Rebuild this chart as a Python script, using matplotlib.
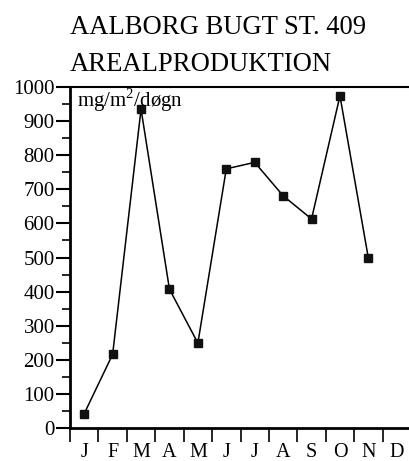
import matplotlib
matplotlib.use("Agg")
import matplotlib.pyplot as plt
from matplotlib.ticker import MultipleLocator, FixedLocator

months = ["J", "F", "M", "A", "M", "J", "J", "A", "S", "O", "N", "D"]
month_pos = [1, 2, 3, 4, 5, 6, 7, 8, 9, 10, 11]
values = [42, 216, 935, 407, 249, 760, 779, 681, 613, 974, 498]
title_lines = ["AALBORG BUGT ST. 409", "AREALPRODUKTION"]
unit = "mg/m$^2$/døgn"

plt.rcParams['font.family'] = ['Liberation Serif', 'DejaVu Serif']
plt.rcParams['mathtext.fontset'] = 'custom'
plt.rcParams['mathtext.rm'] = 'Liberation Serif'

fig = plt.figure(figsize=(4.09, 4.61), dpi=100)
ax = fig.add_axes([70/409, 1-428/461, 341/409, 341/461])

ax.plot(month_pos, values, color='black', lw=1.1, marker='s', ms=6,
        markerfacecolor='#111111', markeredgecolor='#111111')

ax.set_xlim(0.5, 12.5)
ax.set_ylim(0, 1000)

ax.yaxis.set_major_locator(MultipleLocator(100))
ax.yaxis.set_minor_locator(MultipleLocator(50))
ax.tick_params(axis='y', which='major', direction='out', length=10, width=1.5,
               labelsize=15, pad=1)
ax.tick_params(axis='y', which='minor', direction='out', length=6, width=1.2)

# month boundaries as ticks, labels at month centers
ax.xaxis.set_major_locator(FixedLocator([m + 0.5 for m in range(0, 12)]))
ax.xaxis.set_major_formatter(plt.NullFormatter())
ax.xaxis.set_minor_locator(FixedLocator(list(range(1, 13))))
ax.set_xticklabels(months, minor=True)
ax.tick_params(axis='x', which='major', direction='out', length=10, width=1.2)
ax.tick_params(axis='x', which='minor', length=0, labelsize=14.5, pad=11)

ax.spines['right'].set_visible(False)
ax.spines['left'].set_linewidth(2)
ax.spines['bottom'].set_linewidth(2)
ax.spines['top'].set_linewidth(1.5)

ax.text(7/341, (428-107)/341, unit, transform=ax.transAxes, ha='left',
        va='baseline', fontsize=15)

fig.text(70/409, 1-33.5/461, title_lines[0], ha='left', va='baseline', fontsize=19.2)
fig.text(70/409, 1-71/461, title_lines[1], ha='left', va='baseline', fontsize=19.2)

fig.savefig("out.png", dpi=100)
